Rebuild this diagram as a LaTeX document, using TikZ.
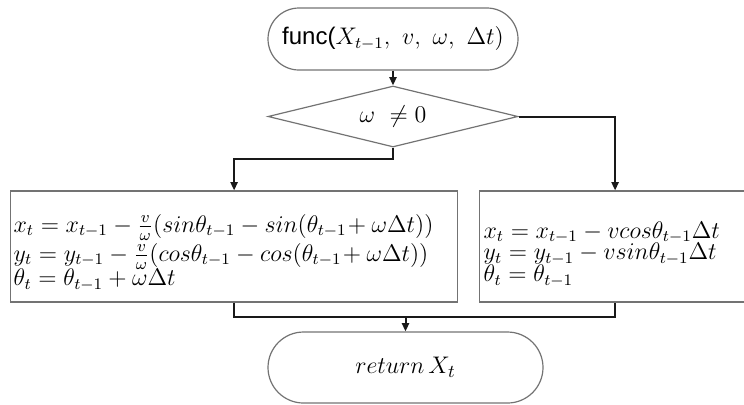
\documentclass[tikz,border=0pt]{standalone}
\usepackage{fontspec}
\newfontfamily\fsans{Liberation Sans}
\usetikzlibrary{shapes.geometric,shapes.misc,arrows.meta}
\newcommand\mytightlines{\lineskiplimit=-100pt\relax}
\tikzset{
  shp/.style={draw=black!55, line width=0.6pt},
  conn/.style={draw=black!90, line width=1pt},
  arr/.style={conn, -{Triangle[length=4.2pt,width=3.6pt]}},
  term/.style={shp, rounded rectangle, inner sep=0pt},
  decide/.style={shp, diamond, inner sep=0pt, aspect=4.1},
  procbox/.style={shp, rectangle, inner ysep=0pt, align=left,
    font=\fontsize{12}{9.6}\selectfont\mytightlines},
}
\begin{document}
\begin{tikzpicture}[x=0.5pt,y=-0.5pt]
\useasboundingbox (0,0) rectangle (744,404);
\node[term, minimum width=125pt, minimum height=31pt, font=\fontsize{12}{14}\selectfont] (top) at (393,39)
  {{\fsans func(}$X_{t-1},\ v,\ \omega,\ \Delta t$)};
\node[decide, minimum width=125pt, minimum height=30.5pt, font=\fontsize{12}{14}\selectfont] (d) at (393,116.5)
  {$\omega\ \neq 0$};
\node[procbox, anchor=west, minimum width=223.5pt, minimum height=55.5pt,
  inner xsep=1.5pt, text width=220.5pt] (L) at (10,246.5)
  {\rule{0pt}{15pt}$x_t = x_{t-1} - \frac{v}{\omega}(sin\theta_{t-1} - sin(\theta_{t-1}\!+ \omega\Delta t))$\\[5pt]
   $y_t = y_{t-1} - \frac{v}{\omega}(cos\theta_{t-1} - cos(\theta_{t-1}\!+ \omega\Delta t))$\\[2.6pt]
   $\theta_t = \theta_{t-1} + \omega\Delta t$};
\node[procbox, anchor=west, minimum width=135.5pt, minimum height=55.5pt,
  inner xsep=2pt, text width=131.5pt] (R) at (479,246.5)
  {\rule{0pt}{16pt}$x_t = x_{t-1} - v cos\theta_{t-1}\Delta t$\\[1.2pt]
   $y_t = y_{t-1} - v sin\theta_{t-1}\Delta t$\\[1.2pt]
   $\theta_t = \theta_{t-1}$};
\node[term, minimum width=137.5pt, minimum height=35.5pt, font=\fontsize{12.5}{14}\selectfont] (B) at (405.5,367.5)
  {$return\,X_t$};
\coordinate (m) at (405.5,317);
\draw[arr] (top.south) -- (d.north);
\draw[arr] (d.south) -- ++(0,11) -| (L.north);
\draw[arr] (d.east) -| (R.north);
\draw[conn] (L.south) |- (m) -| (R.south);
\draw[arr] (m) -- (B.north);
\end{tikzpicture}
\end{document}
